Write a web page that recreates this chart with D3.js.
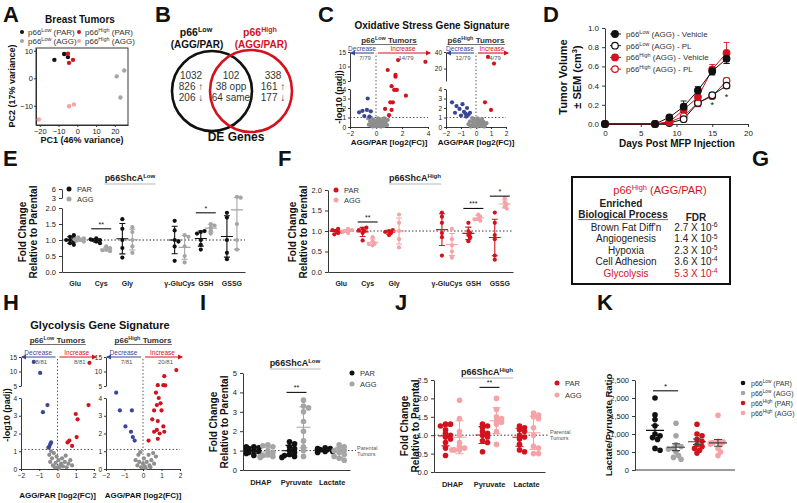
<!DOCTYPE html>
<html>
<head>
<meta charset="UTF-8">
<title>p66ShcA figure</title>
<style>
  body { margin: 0; background: #fff; }
  svg { display: block; background: #fff; }
</style>
</head>
<body>
<div id="figure"></div>
<script src="https://cdn.jsdelivr.net/npm/d3@7"></script>
<script>
// ---------- data ----------
// A: PCA scores [PC1, PC2]
const pcaLowPar = [[-12.2, 6.7], [-7, 8.8], [-5, 7.7]];
const pcaLowAgg = [[21, 0.7], [25, 2.8], [23, -7]];
const pcaHighPar = [[-5, 8.9], [-2.3, 6.7], [-4.4, 5.6]];
const pcaHighAgg = [[-4.4, -10.2], [-1.8, -9.5], [-20.5, -15]];

// B: DE genes
const vennLow = ["1032", "826 \u2191", "206 \u2193"];
const vennShared = ["102", "38 opp", "64 same"];
const vennHigh = ["338", "161 \u2191", "177 \u2193"];

// C: oxidative stress volcano [log2FC, -log10 padj]
const oxLowUp = [[1.7, 12.2], [3.8, 11.6], [0.9, 8.8], [1.5, 7.1], [1.5, 6.5], [1.2, 4.3], [1.4, 3.9], [1.6, 3.9], [2.3, 3.3], [1.3, 2.6], [1.1, 2.6], [0.7, 1.9], [1.2, 1.8], [1.0, 1.25]];
const oxLowDown = [[-0.64, 3.0], [-1.04, 1.7], [-0.7, 1.8], [-0.4, 1.65], [-1.3, 1.55], [-0.5, 1.1], [-0.9, 1.15]];
const oxLowNs = [[-0.55, 0.25], [-0.45, 0.6], [-0.4, 0.15], [-0.3, 0.4], [-0.25, 0.05], [-0.2, 0.75], [-0.15, 0.3], [-0.1, 0.1], [-0.05, 0.5], [0, 0.2], [0.05, 0.05], [0.08, 0.65], [0.12, 0.35], [0.18, 0.15], [0.22, 0.5], [0.28, 0.1], [0.3, 0.8], [0.35, 0.3], [0.4, 0.55], [0.45, 0.2], [0.5, 0.7], [0.55, 0.4], [0.6, 0.1], [0.65, 0.9], [0.7, 0.3], [0.75, 0.55], [0.85, 0.2], [0.9, 0.75], [-0.6, 0.9], [-0.35, 0.95], [0.15, 0.9], [0.02, 0.4], [-0.12, 0.6], [0.38, 0.05]];
const oxHighUp = [[0.8, 34], [1.2, 26], [0.6, 2.6], [1.0, 1.8]];
const oxHighDown = [[-1.6, 2.6], [-1.3, 2.2], [-1.1, 1.9], [-0.9, 2.4], [-0.8, 1.6], [-0.7, 1.4], [-0.6, 2.0], [-0.5, 1.3], [-1.0, 1.2], [-0.4, 1.5], [-1.4, 1.5], [-0.65, 1.1]];
const oxHighNs = [[-0.5, 0.3], [-0.4, 0.6], [-0.3, 0.15], [-0.2, 0.45], [-0.15, 0.8], [-0.1, 0.1], [0, 0.3], [0.05, 0.6], [0.1, 0.05], [0.15, 0.35], [0.2, 0.7], [0.25, 0.2], [0.3, 0.5], [0.35, 0.1], [0.4, 0.85], [0.45, 0.3], [0.5, 0.55], [0.6, 0.2], [0.7, 0.4], [-0.25, 0.95], [-0.05, 0.25], [0.12, 0.9], [0.55, 0.05], [-0.35, 0.05]];

// D: tumour growth (cm3), mean and SEM
const days = [0, 7, 9, 11, 13, 15, 17];
const lowVeh = [0, 0, 0.07, 0.18, 0.35, 0.55, 0.68];
const lowVehSem = [0, 0, 0.01, 0.06, 0.04, 0.04, 0.05];
const lowPL = [0, 0, 0.01, 0.05, 0.22, 0.30, 0.40];
const lowPLSem = [0, 0, 0.01, 0.01, 0.02, 0.02, 0.03];
const highVeh = [0, 0, 0.02, 0.15, 0.28, 0.57, 0.74];
const highVehSem = [0, 0, 0.01, 0.03, 0.03, 0.05, 0.11];
const highPL = [0, 0, 0.02, 0.08, 0.22, 0.29, 0.45];
const highPLSem = [0, 0, 0.01, 0.02, 0.04, 0.02, 0.03];
const growthStars = [[15, 0.2], [17, 0.28]];

// E, F: glutathione metabolites, fold change
const aaCats = ["Glu", "Cys", "Gly", "", "\u03b3-GluCys", "GSH", "GSSG"];
const aaLowPar = [[1.0, 1.05, 0.95, 1.1, 0.9, 1.0, 1.15, 0.85], [0.95, 1.0, 1.05, 0.9, 1.0, 1.02], [1.65, 1.35, 1.0, 0.75, 0.45], [], [1.6, 1.3, 1.0, 0.95, 0.8, 0.35], [1.25, 1.28, 1.2, 1.0, 0.85, 0.7], [1.85, 1.7, 1.0, 0.6, 0.4]];
const aaLowAgg = [[1.0, 1.05, 0.98, 1.02, 1.08, 0.95], [0.7, 0.65, 0.75, 0.8, 0.68], [1.4, 1.25, 1.0, 0.8, 0.6], [], [1.15, 1.1, 0.8, 0.5, 0.3], [1.5, 1.45, 1.4, 1.3, 1.2], [3.4, 3.1, 1.5, 1.0, 0.7]];
const aaHighPar = [[1.0, 0.95, 1.05, 0.92, 1.02, 0.98], [1.05, 1.08, 1.0, 0.95, 1.02, 0.77], [1.0, 0.95, 1.02, 0.9, 0.98], [], [1.45, 1.35, 1.2, 0.95, 0.85, 0.4], [1.2, 1.0, 0.95, 0.9, 0.85, 0.75], [1.45, 1.2, 0.9, 0.8, 0.4, 0.3]];
const aaHighAgg = [[1.0, 1.05, 0.95, 0.98, 1.02], [0.85, 0.75, 0.7, 0.65, 0.68], [1.4, 1.2, 1.0, 0.8, 0.6], [], [1.05, 0.8, 0.65, 0.5, 0.35], [1.4, 1.35, 1.3, 1.25, 1.28], [1.8, 1.7, 1.65, 1.6, 1.55]];
const aaLowSig = [["Cys", 1.35, "**"], ["GSH", 1.85, "*"]];
const aaHighSig = [["Cys", 1.22, "**"], ["GSH", 1.55, "***"], ["GSSG", 1.85, "*"]];

// G: enriched processes
const goTerms = ["Brown Fat Diff'n", "Angiogenesis", "Hypoxia", "Cell Adhesion", "Glycolysis"];
const goFdr = [["2.7", "-6"], ["1.4", "-5"], ["2.3", "-5"], ["3.6", "-4"], ["5.3", "-4"]];

// H: glycolysis volcano
const glyLowUp = [[1.75, 13], [1.7, 3.6], [1.0, 3.1], [1.1, 2.8], [1.05, 1.8], [0.65, 1.6], [0.55, 1.5], [0.8, 1.3]];
const glyLowDown = [[-1.3, 13.3], [-0.95, 9.5], [-0.55, 3.6], [-0.8, 3.2], [-0.4, 1.4], [-0.45, 1.25], [-0.35, 1.5], [-0.5, 1.2]];
const glyLowNs = [[-0.45, 0.8], [-0.4, 0.4], [-0.3, 0.6], [-0.25, 0.2], [-0.2, 0.9], [-0.1, 0.35], [0, 0.1], [0.05, 0.5], [0.1, 0.05], [0.2, 0.3], [0.3, 0.15], [0.4, 0.4], [0.5, 0.1], [0.6, 0.3], [0.7, 0.5], [-0.15, 0.1], [0.25, 0.6], [0.45, 0.75], [-0.35, 1.0], [0.15, 0.2], [0.8, 0.2], [-0.05, 0.7]];
const glyHighUp = [[1.8, 10.5], [1.15, 8.4], [0.8, 5.3], [1.1, 5.3], [1.2, 5.2], [0.7, 4.3], [0.85, 4.0], [0.95, 3.7], [0.75, 3.6], [0.6, 3.3], [1.0, 3.3], [0.5, 2.8], [0.8, 2.7], [1.1, 2.4], [0.75, 2.2], [0.6, 2.1], [0.9, 2.0], [1.15, 2.1], [0.8, 1.7], [0.3, 1.6]];
const glyHighDown = [[-1.45, 4.3], [-1.25, 3.3], [-0.95, 2.4], [-0.65, 2.1], [-0.6, 3.3], [-0.55, 1.8], [-0.45, 1.6]];
const glyHighNs = [[-0.4, 0.5], [-0.3, 0.2], [-0.25, 0.8], [-0.2, 0.4], [-0.1, 0.1], [0, 0.3], [0.05, 0.6], [0.1, 0.15], [0.2, 0.4], [0.3, 0.8], [0.35, 0.2], [0.45, 0.5], [0.55, 0.9], [0.6, 0.3], [0.7, 0.7], [-0.15, 0.95], [0.15, 0.05], [0.4, 0.1]];

// I, J: glycolytic metabolites, fold change
const metCats = ["DHAP", "Pyruvate", "Lactate"];
const metLowPar = [[1.2, 1.15, 1.1, 1.05, 1.0, 0.95, 0.9, 0.85, 0.75, 1.2], [1.45, 1.35, 1.2, 1.0, 0.9, 0.8, 0.75, 0.7, 0.65, 1.1], [1.15, 1.1, 1.05, 1.0, 0.95, 0.95, 0.9, 1.0, 1.05, 1.1]];
const metLowAgg = [[1.3, 1.2, 1.0, 0.9, 0.8, 0.75, 0.7, 0.7, 0.65, 1.25], [3.6, 3.3, 3.2, 3.0, 2.5, 2.0, 1.5, 1.2, 1.0, 0.7], [1.3, 1.2, 1.1, 1.0, 0.9, 0.8, 0.6, 0.5, 1.0, 0.7]];
const metHighPar = [[1.3, 1.3, 1.25, 1.15, 1.05, 1.0, 0.95, 0.9, 0.8, 0.65, 0.45], [1.3, 1.25, 1.2, 1.1, 1.05, 1.0, 0.95, 0.85, 0.8, 0.55], [1.25, 1.2, 1.15, 1.1, 1.0, 0.95, 0.9, 0.75, 0.6, 0.55]];
const metHighAgg = [[1.95, 1.45, 1.1, 1.0, 0.8, 0.7, 0.65, 0.6, 0.6, 0.6], [2.0, 1.7, 1.5, 1.45, 1.4, 1.35, 1.3, 1.1, 0.75], [1.6, 1.55, 1.5, 1.45, 1.2, 1.0, 0.7, 0.65, 0.5, 0.5]];

// K: lactate / pyruvate ratio
const ratioGroups = ["LowPAR", "LowAGG", "HighPAR", "HighAGG"];
const ratioValues = [
  [2000, 1530, 1400, 1230, 1000, 950, 900, 850, 600, 550],
  [1300, 950, 700, 650, 600, 580, 500, 400, 350, 300],
  [1270, 1000, 950, 850, 800, 700, 650, 600, 550, 470],
  [1520, 800, 780, 760, 750, 720, 700, 600, 500, 400]
];

// ---------- drawing ----------
const FONT = '"Liberation Sans", Arial, sans-serif';
const RED = "#d3121e", PINK = "#f5a3a6", GRAY = "#a5a5a5", BLACK = "#111", BLUE = "#3a4795";

const svg = d3.select("#figure").append("svg")
  .attr("width", 797).attr("height", 503)
  .style("font-family", FONT);

const defs = svg.append("defs");
[["arrBlue", BLUE], ["arrRed", RED]].forEach(([id, c]) => {
  defs.append("marker").attr("id", id).attr("viewBox", "0 0 10 10")
    .attr("refX", 8).attr("refY", 5).attr("markerWidth", 5).attr("markerHeight", 5)
    .attr("orient", "auto")
    .append("path").attr("d", "M0,0L10,5L0,10z").attr("fill", c);
});

// text with optional superscripts: parts = ["p66", {sup: "Low"}, " (PAR)"]
function txt(x, y, parts, o = {}) {
  const size = o.size || 8;
  const t = svg.append("text").attr("x", x).attr("y", y)
    .attr("font-size", size).attr("font-weight", o.bold ? "bold" : null)
    .attr("fill", o.color || BLACK).attr("text-anchor", o.anchor || "start");
  if (o.rotate) t.attr("transform", `rotate(-90,${x},${y})`);
  let shift = 0;
  [].concat(parts).forEach(p => {
    if (typeof p === "string") {
      t.append("tspan").attr("dy", shift || null).text(p);
      shift = 0;
    } else {
      t.append("tspan").attr("dy", -size * 0.38).attr("font-size", size * 0.68).text(p.sup);
      shift = size * 0.38;
    }
  });
  return t;
}

function underline(t, color, gap = 2) {
  const b = t.node().getBBox();
  svg.append("line").attr("x1", b.x).attr("x2", b.x + b.width)
    .attr("y1", +t.attr("y") + gap).attr("y2", +t.attr("y") + gap)
    .attr("stroke", color || "#555").attr("stroke-width", 0.7);
}

function axisStyle(g, fs) {
  g.attr("font-family", null).attr("font-size", null);
  g.selectAll("path,line").attr("stroke", "#222").attr("stroke-width", 0.9);
  g.selectAll("text").attr("font-size", fs || 7).attr("fill", "#222");
  return g;
}

function letter(x, y, s) { txt(x, y, s, { size: 22, bold: true }); }

// small deterministic dodge so that equal values sit side by side
function swarm(vals, y, r) {
  const placed = [];
  return vals.map(v => {
    const py = y(v);
    let off = 0;
    for (let k = 0; k < 7; k++) {
      off = (k % 2 ? 1 : -1) * Math.ceil(k / 2) * r * 0.9;
      if (placed.every(p => Math.hypot(p[0] - off, p[1] - py) >= r * 1.3)) break;
    }
    placed.push([off, py]);
    return [off, py];
  });
}

// ----- A -----
letter(3, 22, "A");
txt(80, 23, "Breast Tumors", { size: 10, bold: true, anchor: "middle" });
{
  const x = d3.scaleLinear().domain([-22, 27]).range([36, 128]);
  const y = d3.scaleLinear().domain([-17, 11]).range([125, 48]);
  svg.append("rect").attr("x", x.range()[0]).attr("y", y.range()[1])
    .attr("width", x.range()[1] - x.range()[0]).attr("height", y.range()[0] - y.range()[1])
    .attr("fill", "none").attr("stroke", "#222").attr("stroke-width", 0.9);
  axisStyle(svg.append("g").attr("transform", "translate(0,125)")
    .call(d3.axisBottom(x).tickValues([-20, -10, 0, 10, 20]).tickSize(2).tickSizeOuter(0).tickPadding(2)), 7.5);
  axisStyle(svg.append("g").attr("transform", "translate(36,0)")
    .call(d3.axisLeft(y).tickValues([-10, 0, 10]).tickSize(2).tickSizeOuter(0).tickPadding(1)), 7.5);
  [[pcaLowPar, BLACK], [pcaLowAgg, GRAY], [pcaHighPar, RED], [pcaHighAgg, PINK]].forEach(([d, c]) => {
    svg.selectAll(null).data(d).enter().append("circle")
      .attr("cx", p => x(p[0])).attr("cy", p => y(p[1])).attr("r", 2.2).attr("fill", c);
  });
  const leg = [[22, 32, BLACK, ["p66", { sup: "Low" }, " (PAR)"]], [22, 41, GRAY, ["p66", { sup: "Low" }, " (AGG)"]],
               [79, 32, RED, ["p66", { sup: "High" }, " (PAR)"]], [79, 41, PINK, ["p66", { sup: "High" }, " (AGG)"]]];
  leg.forEach(([lx, ly, c, t]) => {
    svg.append("circle").attr("cx", lx).attr("cy", ly).attr("r", 2).attr("fill", c);
    txt(lx + 6, ly + 3, t, { size: 8, color: "#333" });
  });
  txt(15, 86, "PC2 (17% variance)", { size: 9, bold: true, anchor: "middle", rotate: true });
  txt(82, 143, "PC1 (46% variance)", { size: 9, bold: true, anchor: "middle" });
}

// ----- B -----
letter(155, 22, "B");
{
  svg.append("circle").attr("cx", 212).attr("cy", 91).attr("r", 40)
    .attr("fill", "none").attr("stroke", BLACK).attr("stroke-width", 2.6);
  svg.append("circle").attr("cx", 251).attr("cy", 91).attr("r", 41)
    .attr("fill", "none").attr("stroke", RED).attr("stroke-width", 2.6);
  txt(196, 36, ["p66", { sup: "Low" }], { size: 10.5, bold: true, anchor: "middle" });
  txt(197, 48, "(AGG/PAR)", { size: 10, bold: true, anchor: "middle" });
  txt(260, 36, ["p66", { sup: "High" }], { size: 10.5, bold: true, anchor: "middle", color: RED });
  txt(261, 48, "(AGG/PAR)", { size: 10, bold: true, anchor: "middle", color: RED });
  [[191, vennLow], [231, vennShared], [273, vennHigh]].forEach(([cx, lines]) => {
    lines.forEach((s, i) => txt(cx, 79 + i * 11, s, { size: 10, anchor: "middle", color: "#333" }));
  });
  txt(236, 141, "DE Genes", { size: 12, bold: true, anchor: "middle" });
}

// ----- volcano plots (C, H) -----
function volcano(o) {
  const x = d3.scaleLinear().domain(o.xDomain).range(o.xRange);
  const yLo = d3.scaleLinear().domain([0, 4]).range([o.y0, o.y4]);
  const yHi = d3.scaleLinear().domain(o.hiDomain).range([o.hiBottom, o.hiTop]);
  const y = v => v < o.hiDomain[0] ? yLo(v) : yHi(v);
  const x0 = o.xRange[0];
  const fmt = d3.format("d");
  axisStyle(svg.append("g").attr("transform", `translate(${x0},0)`)
    .call(d3.axisLeft(yLo).tickValues([0, 1, 2, 3, 4]).tickFormat(fmt).tickSize(2).tickSizeOuter(0).tickPadding(2)), 6.5);
  axisStyle(svg.append("g").attr("transform", `translate(${x0},0)`)
    .call(d3.axisLeft(yHi).tickValues(o.hiTicks).tickFormat(fmt).tickSize(2).tickSizeOuter(0).tickPadding(2)), 6.5);
  axisStyle(svg.append("g").attr("transform", `translate(0,${o.y0})`)
    .call(d3.axisBottom(x).tickValues(o.xTicks).tickFormat(fmt).tickSize(2).tickSizeOuter(0).tickPadding(2)), 6.5);
  svg.append("line").attr("x1", x0).attr("x2", o.xRange[1])
    .attr("y1", yLo(o.thresh)).attr("y2", yLo(o.thresh))
    .attr("stroke", "#333").attr("stroke-width", 0.8).attr("stroke-dasharray", "1.5,2");
  svg.append("line").attr("x1", x(0)).attr("x2", x(0)).attr("y1", o.y0).attr("y2", o.arrowY)
    .attr("stroke", "#333").attr("stroke-width", 0.8).attr("stroke-dasharray", "1.5,2");
  [[o.ns, "#8e8e8e"], [o.down, BLUE], [o.up, RED]].forEach(([d, c]) => {
    svg.selectAll(null).data(d).enter().append("circle")
      .attr("cx", p => x(p[0])).attr("cy", p => y(p[1])).attr("r", 2.1).attr("fill", c);
  });
  // direction arrows
  const xl = x(0) - 2, xr = x(0) + 2, xe = o.xRange[1];
  svg.append("line").attr("x1", xl).attr("x2", x0 + 1).attr("y1", o.arrowY).attr("y2", o.arrowY)
    .attr("stroke", BLUE).attr("stroke-width", 1.1).attr("marker-end", "url(#arrBlue)");
  svg.append("line").attr("x1", xr).attr("x2", xe + 2).attr("y1", o.arrowY).attr("y2", o.arrowY)
    .attr("stroke", RED).attr("stroke-width", 1.1).attr("marker-end", "url(#arrRed)");
  txt((xl + x0) / 2, o.arrowY - 2, "Decrease", { size: 6.5, anchor: "middle", color: BLUE });
  txt((xr + xe) / 2, o.arrowY - 2, "Increase", { size: 6.5, anchor: "middle", color: RED });
  txt((xl + x0) / 2 + 3, o.arrowY + 7, o.downCount, { size: 6, anchor: "middle", color: "#555" });
  txt((xr + xe) / 2 + 3, o.arrowY + 7, o.upCount, { size: 6, anchor: "middle", color: "#555" });
  const mid = (x0 + o.xRange[1]) / 2;
  const st = txt(mid, o.subY, o.sub, { size: 8, bold: true, anchor: "middle", color: "#333" });
  underline(st, "#333", 1.5);
  txt(mid, o.xlabY, "AGG/PAR [log2(FC)]", { size: 8, bold: true, anchor: "middle" });
}

// ----- C -----
letter(318, 22, "C");
txt(432, 29, "Oxidative Stress Gene Signature", { size: 10, bold: true, anchor: "middle" });
volcano({ xDomain: [-2, 4], xRange: [350, 428], xTicks: [-2, 0, 2, 4], y0: 127, y4: 89,
  hiDomain: [5, 15], hiBottom: 81, hiTop: 52, hiTicks: [5, 10, 15], thresh: 1, arrowY: 53,
  up: oxLowUp, down: oxLowDown, ns: oxLowNs, upCount: "14/79", downCount: "7/79",
  sub: ["p66", { sup: "Low" }, " Tumors"], subY: 43, xlabY: 145 });
volcano({ xDomain: [-2, 2], xRange: [446, 506], xTicks: [-2, -1, 0, 1, 2], y0: 127, y4: 89,
  hiDomain: [5, 40], hiBottom: 81, hiTop: 52, hiTicks: [20, 40], thresh: 1, arrowY: 53,
  up: oxHighUp, down: oxHighDown, ns: oxHighNs, upCount: "4/79", downCount: "12/79",
  sub: ["p66", { sup: "High" }, " Tumors"], subY: 43, xlabY: 145 });
txt(342, 97, "-log10 (padj)", { size: 9, bold: true, anchor: "middle", rotate: true });

// ----- D -----
letter(543, 22, "D");
{
  const x = d3.scaleLinear().domain([0, 20]).range([605, 748]);
  const y = d3.scaleLinear().domain([0, 1]).range([124, 28]);
  axisStyle(svg.append("g").attr("transform", "translate(0,124)")
    .call(d3.axisBottom(x).tickValues([0, 5, 10, 15, 20]).tickSize(3).tickSizeOuter(0)), 8);
  axisStyle(svg.append("g").attr("transform", "translate(605,0)")
    .call(d3.axisLeft(y).tickValues([0, 0.2, 0.4, 0.6, 0.8, 1.0]).tickFormat(d3.format(".1f")).tickSize(3).tickSizeOuter(0)), 8);
  const series = [
    [highPL, highPLSem, RED, false], [lowPL, lowPLSem, BLACK, false],
    [highVeh, highVehSem, RED, true], [lowVeh, lowVehSem, BLACK, true]
  ];
  const line = d3.line().x((d, i) => x(days[i])).y(d => y(d));
  series.forEach(([v, s, c]) => {
    svg.append("path").attr("d", line(v)).attr("fill", "none").attr("stroke", c).attr("stroke-width", 1);
    v.forEach((d, i) => {
      if (!s[i]) return;
      const cx = x(days[i]);
      svg.append("path").attr("d", `M${cx},${y(d + s[i])}V${y(d - s[i])}M${cx - 3},${y(d + s[i])}h6M${cx - 3},${y(d - s[i])}h6`)
        .attr("stroke", c).attr("stroke-width", 0.9).attr("fill", "none");
    });
  });
  series.forEach(([v, s, c, filled]) => {
    svg.selectAll(null).data(v).enter().append("circle")
      .attr("cx", (d, i) => x(days[i])).attr("cy", d => y(d)).attr("r", 3.3)
      .attr("fill", filled ? c : "#fff").attr("stroke", c).attr("stroke-width", 1.2);
  });
  growthStars.forEach(([d, v]) => txt(x(d), y(v) + 3, "*", { size: 9, anchor: "middle" }));
  const leg = [[BLACK, true, ["p66", { sup: "Low" }, " (AGG) - Vehicle"]], [BLACK, false, ["p66", { sup: "Low" }, " (AGG) - PL"]],
               [RED, true, ["p66", { sup: "High" }, " (AGG) - Vehicle"]], [RED, false, ["p66", { sup: "High" }, " (AGG) - PL"]]];
  leg.forEach(([c, filled, t], i) => {
    const ly = 34 + i * 11.7;
    svg.append("line").attr("x1", 610).attr("x2", 621).attr("y1", ly).attr("y2", ly).attr("stroke", c).attr("stroke-width", 1);
    svg.append("circle").attr("cx", 615).attr("cy", ly).attr("r", 3.3)
      .attr("fill", filled ? c : "#fff").attr("stroke", c).attr("stroke-width", 1.2);
    txt(626, ly + 3, t, { size: 8, color: "#333" });
  });
  txt(567, 77, "Tumor Volume", { size: 11, bold: true, anchor: "middle", rotate: true });
  txt(581, 77, ["\u00b1 SEM (cm", { sup: "3" }, ")"], { size: 11, bold: true, anchor: "middle", rotate: true });
  txt(677, 147, "Days Post MFP Injection", { size: 10, bold: true, anchor: "middle" });
}

// ----- dot plots with mean and error (E, F, I, J) -----
function dotPlot(o) {
  const x = d3.scaleBand().domain(o.cats).range(o.xRange);
  const cx = c => x(c) + x.bandwidth() / 2;
  const y = o.y;
  svg.append("line").attr("x1", o.xRange[0]).attr("x2", o.refEnd || o.xRange[1])
    .attr("y1", y(1)).attr("y2", y(1))
    .attr("stroke", "#222").attr("stroke-width", 0.9).attr("stroke-dasharray", "1.5,2");
  o.groups.forEach(gr => {
    o.cats.forEach((c, i) => {
      const vals = gr.data[i];
      if (!vals || !vals.length) return;
      const px = cx(c) + gr.dx;
      swarm(vals, y, o.r).forEach(([dx, py]) => {
        svg.append("circle").attr("cx", px + dx).attr("cy", py).attr("r", o.r).attr("fill", gr.color);
      });
      const m = d3.mean(vals), sd = d3.deviation(vals);
      const lo = Math.max(m - sd, 0.02), hi = m + sd;
      svg.append("path")
        .attr("d", `M${px},${y(hi)}V${y(lo)}M${px - o.cap},${y(hi)}h${2 * o.cap}M${px - o.cap},${y(lo)}h${2 * o.cap}M${px - o.mw},${y(m)}h${2 * o.mw}`)
        .attr("stroke", gr.bar || gr.color).attr("stroke-width", 1.1).attr("fill", "none");
    });
  });
  o.yAxes.forEach(a => {
    axisStyle(svg.append("g").attr("transform", `translate(${o.xRange[0]},0)`)
      .call(d3.axisLeft(a.scale).tickValues(a.ticks).tickFormat(d3.format(a.fmt)).tickSize(3).tickSizeOuter(0)), o.fs);
  });
  const xa = axisStyle(svg.append("g").attr("transform", `translate(0,${o.y0})`)
    .call(d3.axisBottom(x).tickSize(0).tickSizeOuter(0).tickPadding(o.pad || 8)), o.xfs || o.fs);
  xa.selectAll("text").attr("font-weight", "bold");
  (o.sig || []).forEach(([c, v, s]) => {
    svg.append("line").attr("x1", cx(c) - 10).attr("x2", cx(c) + 10).attr("y1", y(v)).attr("y2", y(v))
      .attr("stroke", BLACK).attr("stroke-width", 1.1);
    txt(cx(c), y(v) - 2, s, { size: 7, anchor: "middle" });
  });
  o.legend.forEach(([c, s], i) => {
    const ly = o.legY + i * o.legStep;
    svg.append("circle").attr("cx", o.legX).attr("cy", ly).attr("r", 2.5).attr("fill", c);
    txt(o.legX + 8, ly + 3, s, { size: 7.5, color: "#333" });
  });
  const t = txt(o.titleX, o.titleY, o.title, { size: 9, bold: true, anchor: "middle", color: "#222" });
  underline(t, "#999", 3);
  txt(o.labX, o.labY, "Fold Change", { size: 10, bold: true, anchor: "middle", rotate: true });
  txt(o.labX + 11, o.labY, "Relative to Parental", { size: 10, bold: true, anchor: "middle", rotate: true });
  if (o.parental) {
    txt(o.parental[0], y(1) - 1, "Parental", { size: 5.5, color: "#555" });
    txt(o.parental[0], y(1) + 5, "Tumors", { size: 5.5, color: "#555" });
  }
}

// ----- E -----
letter(3, 166, "E");
dotPlot({
  cats: aaCats, xRange: [62, 245], y0: 272, r: 2.1, cap: 3, mw: 6, fs: 7.5, xfs: 7, pad: 9,
  y: d3.scaleLinear().domain([0, 2, 3, 6]).range([272, 208, 198, 189]),
  yAxes: [{ scale: d3.scaleLinear().domain([0, 2]).range([272, 208]), ticks: [0, 0.5, 1, 1.5, 2], fmt: ".1f" },
          { scale: d3.scaleLinear().domain([3, 6]).range([198, 189]), ticks: [3, 6], fmt: "d" }],
  groups: [{ data: aaLowPar, color: BLACK, dx: -5 }, { data: aaLowAgg, color: GRAY, dx: 5 }],
  sig: aaLowSig, legend: [[BLACK, "PAR"], [GRAY, "AGG"]], legX: 69, legY: 189, legStep: 10,
  title: ["p66ShcA", { sup: "Low" }], titleX: 130, titleY: 181, labX: 26, labY: 232
});

// ----- F -----
letter(278, 166, "F");
dotPlot({
  cats: aaCats, xRange: [328, 513], y0: 272, r: 2.1, cap: 3, mw: 6, fs: 7.5, xfs: 7, pad: 9,
  y: d3.scaleLinear().domain([0, 2]).range([272, 190]),
  yAxes: [{ scale: d3.scaleLinear().domain([0, 2]).range([272, 190]), ticks: [0, 0.5, 1, 1.5, 2], fmt: ".1f" }],
  groups: [{ data: aaHighPar, color: RED, dx: -5 }, { data: aaHighAgg, color: PINK, dx: 5 }],
  sig: aaHighSig, legend: [[RED, "PAR"], [PINK, "AGG"]], legX: 336, legY: 190, legStep: 10,
  title: ["p66ShcA", { sup: "High" }], titleX: 415, titleY: 181, labX: 296, labY: 232
});

// ----- G -----
letter(752, 166, "G");
{
  svg.append("rect").attr("x", 572).attr("y", 177).attr("width", 158).attr("height", 107)
    .attr("fill", "none").attr("stroke", BLACK).attr("stroke-width", 2);
  txt(660, 194, ["p66", { sup: "High" }, " (AGG/PAR)"], { size: 11, anchor: "middle", color: RED });
  txt(621, 207, "Enriched", { size: 10, bold: true, anchor: "middle", color: "#222" });
  const bp = txt(623, 218, "Biological Process", { size: 10, bold: true, anchor: "middle", color: "#222" });
  underline(bp, "#222", 1.6);
  txt(696, 221, "FDR", { size: 10, bold: true, anchor: "middle", color: "#222" });
  goTerms.forEach((term, i) => {
    const c = i === goTerms.length - 1 ? RED : "#222";
    const ty = 231 + i * 11.4;
    txt(626, ty, term, { size: 10, anchor: "middle", color: c });
    txt(696, ty, [goFdr[i][0] + " X 10", { sup: goFdr[i][1] }], { size: 10, anchor: "middle", color: c });
  });
}

// ----- H -----
letter(3, 310, "H");
txt(100, 329, "Glycolysis Gene Signature", { size: 11, bold: true, anchor: "middle" });
volcano({ xDomain: [-2, 2], xRange: [21, 94], xTicks: [-2, -1, 0, 1, 2], y0: 469, y4: 398,
  hiDomain: [5, 15], hiBottom: 386, hiTop: 357, hiTicks: [5, 10, 15], thresh: 1.1, arrowY: 357,
  up: glyLowUp, down: glyLowDown, ns: glyLowNs, upCount: "8/81", downCount: "8/81",
  sub: ["p66", { sup: "Low" }, " Tumors"], subY: 343, xlabY: 498 });
volcano({ xDomain: [-2, 2], xRange: [106, 180], xTicks: [-2, -1, 0, 1, 2], y0: 469, y4: 398,
  hiDomain: [5, 15], hiBottom: 386, hiTop: 357, hiTicks: [5, 10, 15], thresh: 1.1, arrowY: 357,
  up: glyHighUp, down: glyHighDown, ns: glyHighNs, upCount: "20/81", downCount: "7/81",
  sub: ["p66", { sup: "High" }, " Tumors"], subY: 343, xlabY: 498 });
txt(10, 415, "-log10 (padj)", { size: 9, bold: true, anchor: "middle", rotate: true });

// ----- I -----
letter(200, 310, "I");
dotPlot({
  cats: metCats, xRange: [243, 350], y0: 470, r: 2.8, cap: 4, mw: 7, fs: 7.5, refEnd: 356, pad: 10,
  y: d3.scaleLinear().domain([0, 5]).range([470, 373]),
  yAxes: [{ scale: d3.scaleLinear().domain([0, 5]).range([470, 373]), ticks: [0, 1, 2, 3, 4, 5], fmt: "d" }],
  groups: [{ data: metLowPar, color: BLACK, dx: -7 }, { data: metLowAgg, color: GRAY, dx: 7 }],
  sig: [["Pyruvate", 4, "**"]], legend: [[BLACK, "PAR"], [GRAY, "AGG"]], legX: 352, legY: 373, legStep: 11,
  title: ["p66ShcA", { sup: "Low" }], titleX: 295, titleY: 366, labX: 217, labY: 422, parental: [357]
});

// ----- J -----
letter(395, 310, "J");
dotPlot({
  cats: metCats, xRange: [434, 545], y0: 472, r: 2.8, cap: 4, mw: 7, fs: 7.5, refEnd: 548, pad: 10,
  y: d3.scaleLinear().domain([0, 2.5]).range([472, 380]),
  yAxes: [{ scale: d3.scaleLinear().domain([0, 2.5]).range([472, 380]), ticks: [0, 0.5, 1, 1.5, 2, 2.5], fmt: ".1f" }],
  groups: [{ data: metHighPar, color: RED, dx: -7 }, { data: metHighAgg, color: PINK, dx: 7 }],
  sig: [["Pyruvate", 2.3, "**"]], legend: [[RED, "PAR"], [PINK, "AGG"]], legX: 557, legY: 383, legStep: 12,
  title: ["p66ShcA", { sup: "High" }], titleX: 487, titleY: 375, labX: 408, labY: 426, parental: [550]
});

// ----- K -----
letter(597, 310, "K");
{
  const x = d3.scalePoint().domain(ratioGroups).range([655, 718]);
  const y = d3.scaleLinear().domain([0, 2500]).range([470, 380]);
  const colors = [BLACK, GRAY, RED, PINK];
  axisStyle(svg.append("g").attr("transform", "translate(635,0)")
    .call(d3.axisLeft(y).tickValues([0, 500, 1000, 1500, 2000, 2500]).tickSize(3).tickSizeOuter(0)), 7.5);
  svg.append("line").attr("x1", 635).attr("x2", 735).attr("y1", 470).attr("y2", 470)
    .attr("stroke", "#222").attr("stroke-width", 0.9);
  ratioGroups.forEach((g, i) => {
    const vals = ratioValues[i];
    swarm(vals, y, 2.8).forEach(([dx, py]) => {
      svg.append("circle").attr("cx", x(g) + dx).attr("cy", py).attr("r", 2.8).attr("fill", colors[i]);
    });
    const m = d3.mean(vals), se = d3.deviation(vals) / Math.sqrt(vals.length);
    svg.append("path")
      .attr("d", `M${x(g)},${y(m + se)}V${y(m - se)}M${x(g) - 4},${y(m + se)}h8M${x(g) - 4},${y(m - se)}h8M${x(g) - 9},${y(m)}h18`)
      .attr("stroke", i === 0 ? BLACK : "#444").attr("stroke-width", 1.1).attr("fill", "none");
  });
  svg.append("line").attr("x1", x("LowPAR") - 2).attr("x2", x("LowAGG") + 2).attr("y1", y(2200)).attr("y2", y(2200))
    .attr("stroke", BLACK).attr("stroke-width", 1.1);
  txt((x("LowPAR") + x("LowAGG")) / 2, y(2200) - 2, "*", { size: 8, anchor: "middle" });
  const leg = [["p66", { sup: "Low" }, " (PAR)"], ["p66", { sup: "Low" }, " (AGG)"], ["p66", { sup: "High" }, " (PAR)"], ["p66", { sup: "High" }, " (AGG)"]];
  leg.forEach((t, i) => {
    const ly = 383 + i * 10;
    svg.append("circle").attr("cx", 743).attr("cy", ly).attr("r", 2.3).attr("fill", colors[i]);
    txt(751, ly + 3, t, { size: 7, color: "#333" });
  });
  txt(612, 425, "Lactate/Pyruvate Ratio", { size: 9.5, bold: true, anchor: "middle", rotate: true });
}
</script>
</body>
</html>
